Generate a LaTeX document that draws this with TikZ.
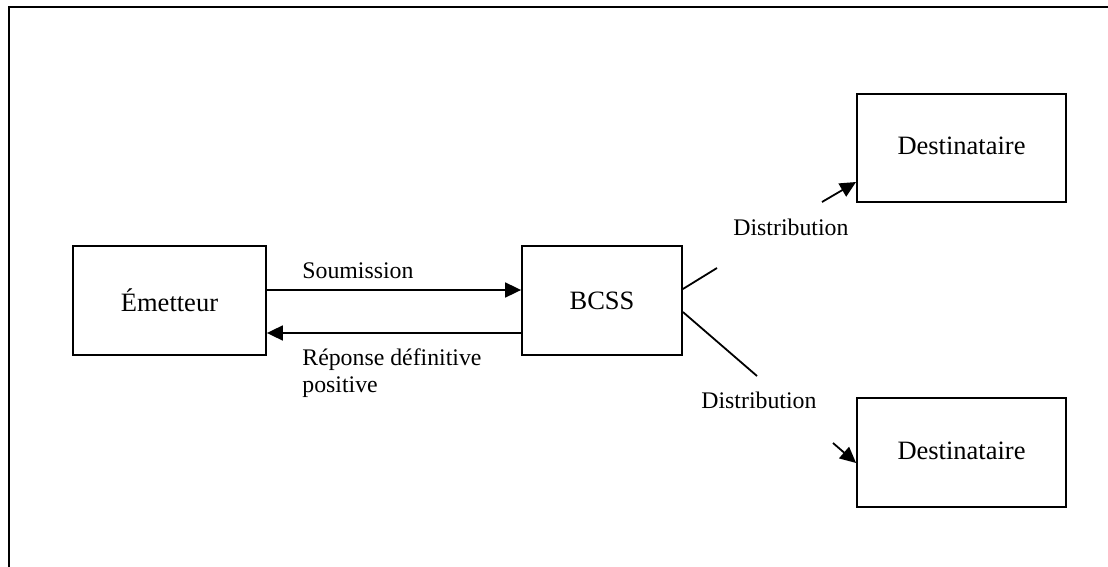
\documentclass[tikz,border=0pt]{standalone}
\usepackage{fontspec}
\setmainfont{Liberation Serif}
\usetikzlibrary{arrows.meta}
\tikzset{
  x=0.5pt, y=-0.5pt,
  frame/.style={line width=1.2pt, line cap=butt},
  box/.style={draw, line width=0.9pt, inner sep=0pt, font=\fontsize{13.25}{16}\selectfont},
  lbl/.style={inner sep=0pt, font=\fontsize{11.9}{14}\selectfont},
  conn/.style={line width=0.9pt},
  arr/.style={conn, -{Triangle[length=8pt, width=7.5pt]}},
}
\begin{document}
\begin{tikzpicture}
\useasboundingbox (0,0) rectangle (1108,567);
% outer frame (partially visible)
\draw[frame] (9,567) |- (1108,7);

% boxes
\node[box, minimum width=96.5pt, minimum height=54.5pt] (em) at (169.5,300.5) {Émetteur\raisebox{0pt}[0pt][0pt]{}\rule{0pt}{0pt}};
\node[box, minimum width=80pt, minimum height=54.5pt] (bcss) at (602,300.5) {BCSS\hspace{9pt}};
\node[box, minimum width=104.5pt, minimum height=54pt] (dest1) at (961.5,148) {\raisebox{2pt}{Destinataire}};
\node[box, minimum width=104.5pt, minimum height=54.5pt] (dest2) at (961.5,452.5) {\raisebox{2pt}{Destinataire}};

% Soumission / Réponse
\draw[arr] (em.east |- 0,290) -- (bcss.west |- 0,290);
\draw[arr] (bcss.west |- 0,333) -- (em.east |- 0,333);
\node[lbl, anchor=base west] (soum) at (302,278) {Soumission};
\node[lbl, anchor=base west] (rep1) at (302,365) {Réponse définitive};
\node[lbl, anchor=base west] (rep2) at (302,392) {positive};

% Distribution upper
\coordinate (c1) at (717,268);
\coordinate (c2) at (822,202);
\draw[conn] (bcss.east |- 0,289) -- (c1);
\draw[arr] (c2) -- (dest1.west |- 0,182);
\node[lbl, anchor=base west] (dist1) at (733,235) {Distribution};

% Distribution lower
\coordinate (c3) at (757,376);
\coordinate (c4) at (833,443);
\draw[conn] (bcss.east |- 0,312) -- (c3);
\draw[arr] (c4) -- (dest2.west |- 0,463);
\node[lbl, anchor=base west] (dist2) at (701,408) {Distribution};
\end{tikzpicture}
\end{document}
